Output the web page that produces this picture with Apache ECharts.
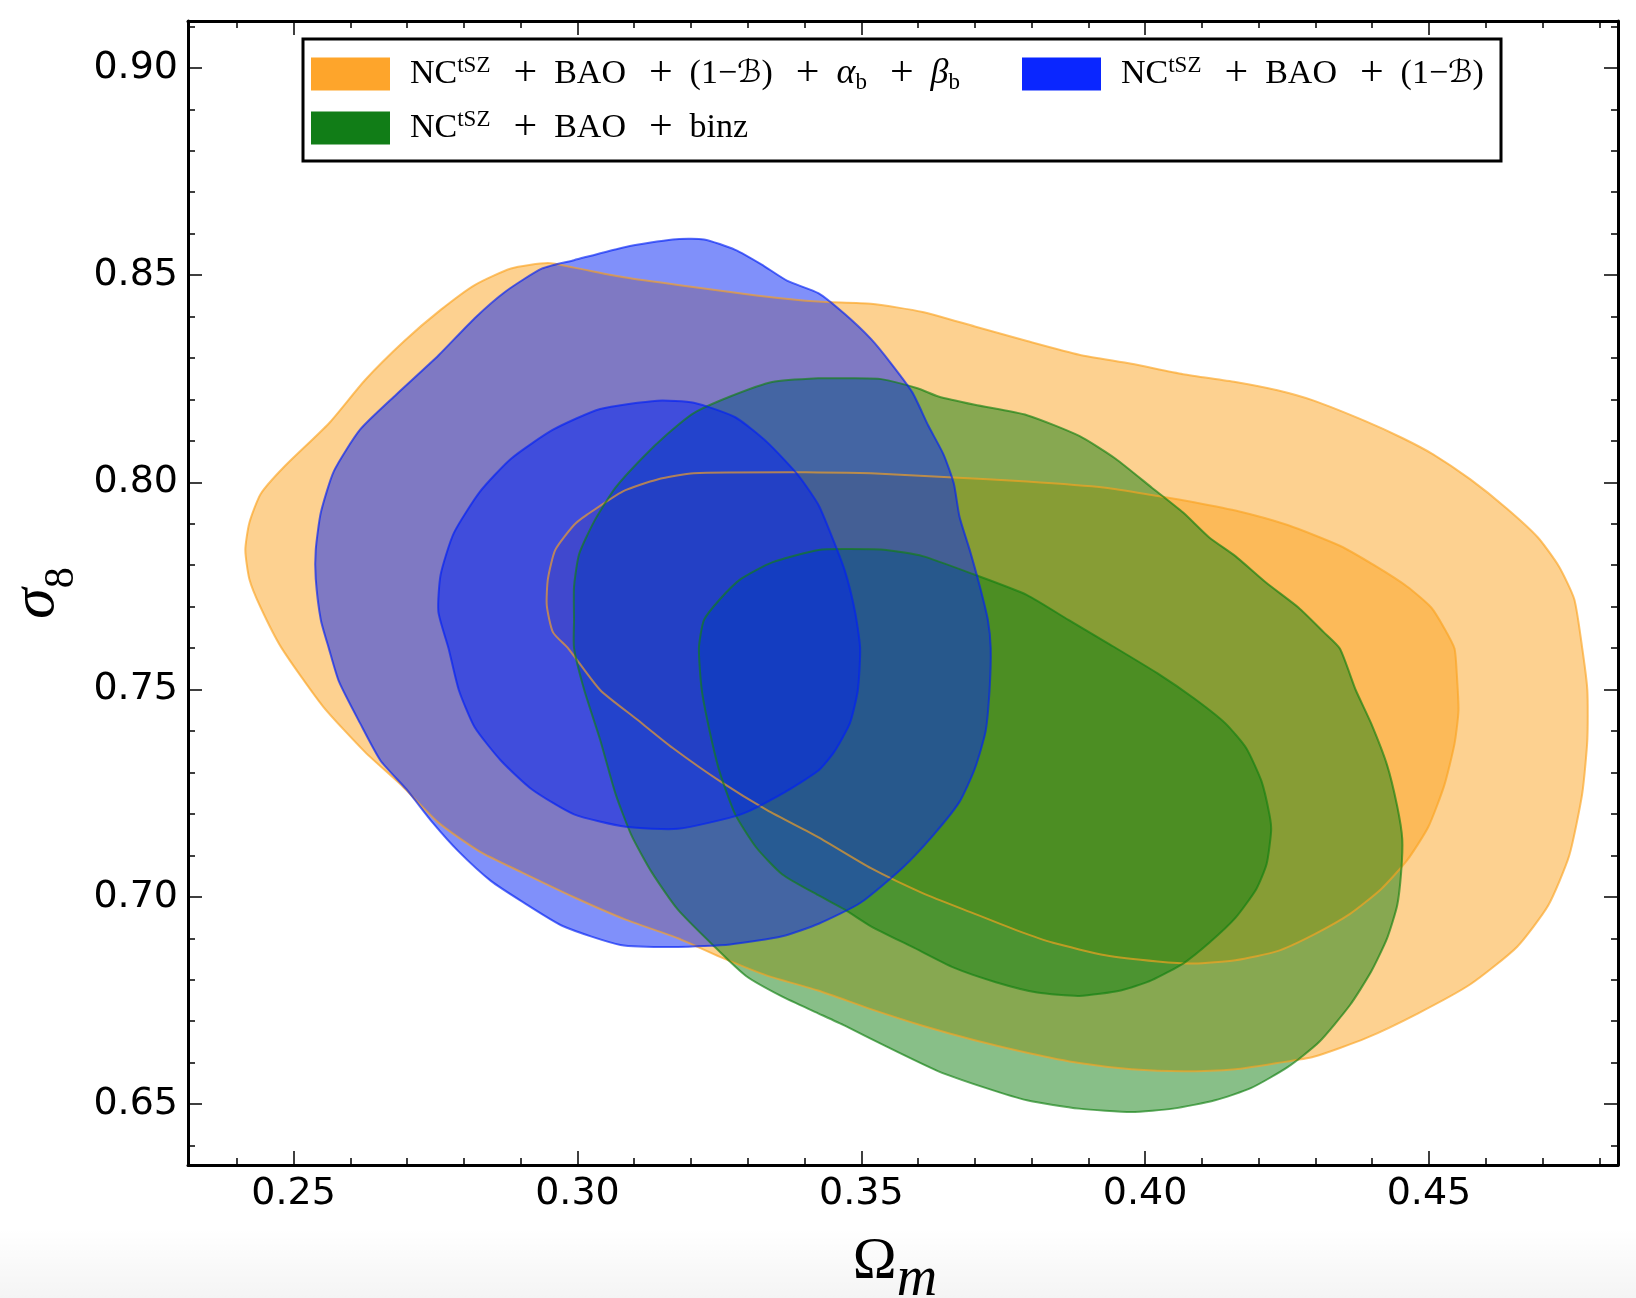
<!DOCTYPE html>
<html>
<head>
<meta charset="utf-8">
<title>Omega_m - sigma_8</title>
<script src="https://cdn.jsdelivr.net/npm/echarts@6/dist/echarts.min.js"></script>
<style>
	html, body { margin: 0; padding: 0; background: #fff; }
	#chart { width: 1636px; height: 1298px; }
</style>
</head>
<body>
<div id="chart"></div>
<script>
// contour vertices [Omega_m, sigma_8]
var orangeOuter = [
	[0.2948, 0.8529], [0.2994, 0.8518], [0.3085, 0.8494], [0.3177, 0.8476], [0.3315, 0.8451], [0.3424, 0.8436],
	[0.3517, 0.8431], [0.3608, 0.8411], [0.3700, 0.8376], [0.3792, 0.8341], [0.3884, 0.8308], [0.3976, 0.8286],
	[0.4067, 0.8261], [0.4159, 0.8242], [0.4233, 0.8222], [0.4297, 0.8197], [0.4389, 0.8147], [0.4453, 0.8107],
	[0.4508, 0.8067], [0.4573, 0.8007], [0.4637, 0.7937], [0.4692, 0.7867], [0.4729, 0.7797], [0.4756, 0.7718],
	[0.4770, 0.7600], [0.4779, 0.7499], [0.4779, 0.7379], [0.4770, 0.7249], [0.4747, 0.7099], [0.4710, 0.6979],
	[0.4655, 0.6879], [0.4573, 0.6789], [0.4481, 0.6719], [0.4389, 0.6659], [0.4297, 0.6614], [0.4233, 0.6599],
	[0.4159, 0.6584], [0.4067, 0.6579], [0.3976, 0.6584], [0.3884, 0.6599], [0.3792, 0.6624], [0.3700, 0.6654],
	[0.3608, 0.6689], [0.3517, 0.6729], [0.3424, 0.6774], [0.3334, 0.6810], [0.3251, 0.6855], [0.3177, 0.6900],
	[0.3085, 0.6945], [0.2994, 0.6999], [0.2902, 0.7059], [0.2828, 0.7109], [0.2755, 0.7179], [0.2690, 0.7269],
	[0.2626, 0.7349], [0.2552, 0.7459], [0.2479, 0.7600], [0.2442, 0.7698], [0.2422, 0.7767], [0.2415, 0.7837],
	[0.2422, 0.7902], [0.2442, 0.7972], [0.2483, 0.8037], [0.2562, 0.8142], [0.2626, 0.8247], [0.2695, 0.8341],
	[0.2759, 0.8416], [0.2819, 0.8476], [0.2883, 0.8516]
];
var orangeInner = [
	[0.3205, 0.8022], [0.3424, 0.8024], [0.3517, 0.8022], [0.3654, 0.8012], [0.3792, 0.8002], [0.3930, 0.7987],
	[0.4022, 0.7967], [0.4067, 0.7957], [0.4159, 0.7932], [0.4251, 0.7897], [0.4343, 0.7847], [0.4407, 0.7797],
	[0.4462, 0.7748], [0.4504, 0.7698], [0.4527, 0.7648], [0.4545, 0.7599], [0.4549, 0.7539], [0.4552, 0.7449],
	[0.4545, 0.7369], [0.4527, 0.7269], [0.4499, 0.7169], [0.4462, 0.7089], [0.4416, 0.7019], [0.4361, 0.6959],
	[0.4297, 0.6909], [0.4233, 0.6869], [0.4159, 0.6847], [0.4086, 0.6839], [0.4022, 0.6844], [0.3930, 0.6859],
	[0.3838, 0.6889], [0.3774, 0.6919], [0.3700, 0.6959], [0.3608, 0.7009], [0.3517, 0.7069], [0.3424, 0.7144],
	[0.3334, 0.7209], [0.3251, 0.7279], [0.3168, 0.7359], [0.3104, 0.7429], [0.3040, 0.7499], [0.2984, 0.7599],
	[0.2957, 0.7638], [0.2946, 0.7703], [0.2948, 0.7767], [0.2961, 0.7837], [0.2994, 0.7897], [0.3017, 0.7922],
	[0.3081, 0.7979], [0.3141, 0.8007]
];
var greenOuter = [
	[0.3424, 0.8251], [0.3480, 0.8251], [0.3535, 0.8249], [0.3599, 0.8227], [0.3636, 0.8207], [0.3700, 0.8187],
	[0.3792, 0.8162], [0.3884, 0.8112], [0.3948, 0.8057], [0.4012, 0.7987], [0.4067, 0.7927], [0.4113, 0.7867],
	[0.4159, 0.7822], [0.4214, 0.7757], [0.4270, 0.7698], [0.4315, 0.7638], [0.4343, 0.7599], [0.4371, 0.7499],
	[0.4398, 0.7419], [0.4426, 0.7319], [0.4444, 0.7219], [0.4453, 0.7139], [0.4451, 0.7059], [0.4444, 0.6979],
	[0.4426, 0.6899], [0.4398, 0.6819], [0.4361, 0.6739], [0.4306, 0.6649], [0.4251, 0.6589], [0.4187, 0.6539],
	[0.4123, 0.6509], [0.4049, 0.6489], [0.3976, 0.6481], [0.3884, 0.6489], [0.3792, 0.6509], [0.3719, 0.6539],
	[0.3636, 0.6579], [0.3544, 0.6639], [0.3471, 0.6689], [0.3424, 0.6719], [0.3361, 0.6759], [0.3297, 0.6809],
	[0.3242, 0.6879], [0.3177, 0.6969], [0.3131, 0.7059], [0.3095, 0.7149], [0.3067, 0.7249], [0.3040, 0.7379],
	[0.3012, 0.7499], [0.2994, 0.7600], [0.2994, 0.7668], [0.2994, 0.7748], [0.3003, 0.7827], [0.3030, 0.7907],
	[0.3067, 0.7987], [0.3113, 0.8057], [0.3159, 0.8117], [0.3205, 0.8167], [0.3269, 0.8207], [0.3343, 0.8242]
];
var greenInner = [
	[0.3425, 0.7837], [0.3480, 0.7839], [0.3544, 0.7837], [0.3608, 0.7822], [0.3700, 0.7777], [0.3792, 0.7728],
	[0.3865, 0.7668], [0.3939, 0.7608], [0.4022, 0.7539], [0.4086, 0.7479], [0.4141, 0.7419], [0.4178, 0.7359],
	[0.4205, 0.7279], [0.4219, 0.7199], [0.4222, 0.7159], [0.4214, 0.7079], [0.4196, 0.7019], [0.4159, 0.6949],
	[0.4113, 0.6889], [0.4067, 0.6839], [0.4012, 0.6799], [0.3957, 0.6774], [0.3884, 0.6761], [0.3810, 0.6769],
	[0.3737, 0.6794], [0.3663, 0.6829], [0.3590, 0.6879], [0.3517, 0.6929], [0.3471, 0.6969], [0.3424, 0.7004],
	[0.3361, 0.7054], [0.3315, 0.7119], [0.3278, 0.7199], [0.3251, 0.7299], [0.3233, 0.7399], [0.3219, 0.7499],
	[0.3214, 0.7600], [0.3223, 0.7668], [0.3251, 0.7718], [0.3288, 0.7767], [0.3343, 0.7807]
];
var blueOuter = [
	[0.3168, 0.8586], [0.3223, 0.8586], [0.3278, 0.8561], [0.3324, 0.8526], [0.3370, 0.8486], [0.3425, 0.8456],
	[0.3471, 0.8406], [0.3517, 0.8346], [0.3553, 0.8286], [0.3590, 0.8217], [0.3618, 0.8137], [0.3645, 0.8067],
	[0.3663, 0.7997], [0.3673, 0.7917], [0.3691, 0.7837], [0.3709, 0.7748], [0.3723, 0.7668], [0.3728, 0.7600],
	[0.3726, 0.7499], [0.3719, 0.7399], [0.3700, 0.7309], [0.3673, 0.7229], [0.3627, 0.7149], [0.3572, 0.7069],
	[0.3498, 0.6985], [0.3425, 0.6935], [0.3361, 0.6905], [0.3269, 0.6885], [0.3177, 0.6879], [0.3076, 0.6884],
	[0.2975, 0.6929], [0.2902, 0.6989], [0.2847, 0.7039], [0.2791, 0.7109], [0.2745, 0.7179], [0.2699, 0.7259],
	[0.2653, 0.7329], [0.2617, 0.7419], [0.2580, 0.7519], [0.2562, 0.7600], [0.2548, 0.7668], [0.2539, 0.7767],
	[0.2539, 0.7837], [0.2548, 0.7927], [0.2571, 0.8027], [0.2617, 0.8127], [0.2681, 0.8212], [0.2755, 0.8306],
	[0.2819, 0.8396], [0.2874, 0.8461], [0.2938, 0.8516], [0.2994, 0.8536], [0.3085, 0.8568]
];
var blueInner = [
	[0.3141, 0.8197], [0.3205, 0.8192], [0.3278, 0.8157], [0.3334, 0.8097], [0.3389, 0.8017], [0.3424, 0.7947],
	[0.3443, 0.7887], [0.3471, 0.7787], [0.3489, 0.7688], [0.3498, 0.7600], [0.3494, 0.7499], [0.3480, 0.7419],
	[0.3452, 0.7349], [0.3424, 0.7304], [0.3361, 0.7249], [0.3288, 0.7199], [0.3177, 0.7164], [0.3085, 0.7169],
	[0.2994, 0.7199], [0.2920, 0.7259], [0.2865, 0.7329], [0.2819, 0.7409], [0.2791, 0.7499], [0.2773, 0.7599],
	[0.2755, 0.7688], [0.2759, 0.7777], [0.2782, 0.7877], [0.2828, 0.7977], [0.2883, 0.8057], [0.2957, 0.8127],
	[0.3040, 0.8177]
];

var xRange = [0.2314, 0.4833];
var yRange = [0.6353, 0.9113];
var xMajor = [0.25, 0.30, 0.35, 0.40, 0.45];
var xMinor = [0.24, 0.26, 0.27, 0.28, 0.29, 0.31, 0.32, 0.33, 0.34, 0.36, 0.37, 0.38, 0.39, 0.41, 0.42, 0.43, 0.44, 0.46, 0.47, 0.48];
var yMajor = [0.65, 0.70, 0.75, 0.80, 0.85, 0.90];
var yMinor = [0.64, 0.66, 0.67, 0.68, 0.69, 0.71, 0.72, 0.73, 0.74, 0.76, 0.77, 0.78, 0.79, 0.81, 0.82, 0.83, 0.84, 0.86, 0.87, 0.88, 0.89, 0.91];

var nameOrange = 'NCtSZ + BAO + (1-B) + alpha_b + beta_b';
var nameGreen = 'NCtSZ + BAO + binz';
var nameBlue = 'NCtSZ + BAO + (1-B)';

var legendText = {};
legendText[nameOrange] = '{m0|NC}{sup|tSZ}{p|+}{m|BAO}{p|+}{m|(1\u2212}{cal|\u212C}{m|)}{p|+}{it|\u03B1}{sub|b}{p|+}{it|\u03B2}{sub|b}';
legendText[nameGreen] = '{m0|NC}{sup|tSZ}{p|+}{m|BAO}{p|+}{m|binz}';
legendText[nameBlue] = '{m0|NC}{sup|tSZ}{p|+}{m|BAO}{p|+}{m|(1\u2212}{cal|\u212C}{m|)}';

var serif = "'Liberation Serif', 'DejaVu Serif', serif";
var sans = "'DejaVu Sans', sans-serif";

var chart = echarts.init(document.getElementById('chart'));

function fillSeries(name, pts, fill, iconColor) {
	return {
		type: 'custom',
		name: name,
		coordinateSystem: 'cartesian2d',
		xAxisIndex: 0,
		yAxisIndex: 0,
		silent: true,
		itemStyle: { color: iconColor },
		data: pts,
		renderItem: function(params, api) {
			if(params.dataIndex !== 0) {
				return null;
			}
			var points = [];
			for(var i = 0; i < pts.length; i++) {
				points.push(api.coord(pts[i]));
			}
			return {
				type: 'polygon',
				shape: { points: points, smooth: 0.2 },
				style: { fill: fill, stroke: null }
			};
		}
	};
}

function lineSeries(pts, stroke) {
	return {
		type: 'custom',
		coordinateSystem: 'cartesian2d',
		xAxisIndex: 0,
		yAxisIndex: 0,
		silent: true,
		data: pts,
		renderItem: function(params, api) {
			if(params.dataIndex !== 0) {
				return null;
			}
			var points = [];
			for(var i = 0; i < pts.length; i++) {
				points.push(api.coord(pts[i]));
			}
			return {
				type: 'polygon',
				shape: { points: points, smooth: 0.2 },
				style: { fill: null, stroke: stroke, lineWidth: 2 }
			};
		}
	};
}

var orangeFill = 'rgba(251,163,33,0.5)';
var greenFill = 'rgba(17,127,17,0.5)';
var blueFill = 'rgba(1,33,245,0.5)';
var orangeLine = 'rgba(251,163,33,0.65)';
var greenLine = 'rgba(17,127,17,0.65)';
var blueLine = 'rgba(1,33,245,0.65)';

var series = [
	fillSeries(nameOrange, orangeOuter, orangeFill, '#FEA52B'),
	fillSeries(nameOrange, orangeInner, orangeFill, '#FEA52B'),
	fillSeries(nameGreen, greenOuter, greenFill, '#117D17'),
	fillSeries(nameGreen, greenInner, greenFill, '#117D17'),
	fillSeries(nameBlue, blueOuter, blueFill, '#0A26FF'),
	fillSeries(nameBlue, blueInner, blueFill, '#0A26FF'),
	lineSeries(orangeOuter, orangeLine),
	lineSeries(orangeInner, orangeLine),
	lineSeries(greenOuter, greenLine),
	lineSeries(greenInner, greenLine),
	lineSeries(blueOuter, blueLine),
	lineSeries(blueInner, blueLine)
];

var richLegend = {
	m0: { fontFamily: serif, fontSize: 34, lineHeight: 40, color: '#000', padding: [0, 0, 0, 15] },
	m: { fontFamily: serif, fontSize: 34, lineHeight: 40, color: '#000' },
	p: { fontFamily: serif, fontSize: 42, lineHeight: 40, color: '#000', padding: [0, 17, 0, 23] },
	it: { fontFamily: serif, fontSize: 36, lineHeight: 40, fontStyle: 'italic', color: '#000' },
	cal: { fontFamily: "'DejaVu Serif', 'DejaVu Sans', serif", fontSize: 31, lineHeight: 40, color: '#000' },
	sup: { fontFamily: serif, fontSize: 23, lineHeight: 22, verticalAlign: 'top', color: '#000' },
	sub: { fontFamily: serif, fontSize: 23, lineHeight: 22, verticalAlign: 'bottom', color: '#000' }
};

function legendBlock(data, left) {
	return {
		data: data,
		orient: 'vertical',
		left: left,
		top: 53,
		padding: 0,
		itemWidth: 79,
		itemHeight: 33,
		itemGap: 12,
		icon: 'rect',
		selectedMode: false,
		formatter: function(name) {
			return legendText[name];
		},
		textStyle: { rich: richLegend }
	};
}

function tickAxis(dim, position, values, len, withLine, withLabel) {
	var isX = dim === 'x';
	var ax = {
		type: 'value',
		position: position,
		min: isX ? xRange[0] : yRange[0],
		max: isX ? xRange[1] : yRange[1],
		splitLine: { show: false },
		axisLine: { show: withLine, lineStyle: { color: '#000', width: 3 } },
		axisTick: {
			show: true,
			inside: true,
			length: len,
			lineStyle: { color: '#000', width: 1.5 },
			customValues: values
		},
		axisLabel: { show: false }
	};
	if(withLabel) {
		ax.axisLabel = {
			show: true,
			customValues: values,
			margin: 10,
			fontFamily: sans,
			fontSize: 38,
			color: '#000',
			formatter: function(v) {
				return v.toFixed(2);
			}
		};
	}
	return ax;
}

var xAxes = [
	tickAxis('x', 'bottom', xMajor, 14, true, true),
	tickAxis('x', 'bottom', xMinor, 7, false, false),
	tickAxis('x', 'top', xMajor, 14, true, false),
	tickAxis('x', 'top', xMinor, 7, false, false)
];
xAxes[0].name = '{o|\u03A9}{s|m}';
xAxes[0].nameLocation = 'middle';
xAxes[0].nameGap = 60;
xAxes[0].nameTextStyle = {
	rich: {
		o: { fontFamily: serif, fontSize: 59, lineHeight: 58, color: '#000' },
		s: { fontFamily: serif, fontSize: 56, lineHeight: 56, fontStyle: 'italic', padding: [34, 16, 0, 0], color: '#000' }
	}
};

var yAxes = [
	tickAxis('y', 'left', yMajor, 14, true, true),
	tickAxis('y', 'left', yMinor, 7, false, false),
	tickAxis('y', 'right', yMajor, 14, true, false),
	tickAxis('y', 'right', yMinor, 7, false, false)
];
yAxes[0].name = '{s|\u03C3}{d|8}';
yAxes[0].nameLocation = 'middle';
yAxes[0].nameGap = 112;
yAxes[0].nameRotate = 90;
yAxes[0].nameTextStyle = {
	rich: {
		s: { fontFamily: serif, fontSize: 62, lineHeight: 60, fontStyle: 'italic', color: '#000' },
		d: { fontFamily: serif, fontSize: 42, lineHeight: 42, padding: [50, 0, 0, 0], color: '#000' }
	}
};

var option = {
	backgroundColor: '#fff',
	animation: false,
	grid: { left: 188, right: 18, top: 21, bottom: 133, containLabel: false, outerBoundsMode: 'none' },
	xAxis: xAxes,
	yAxis: yAxes,
	legend: [legendBlock([nameOrange, nameGreen], 311), legendBlock([nameBlue], 1022)],
	graphic: [{
		type: 'rect',
		z: -1,
		silent: true,
		shape: { x: 0, y: 1228, width: 1636, height: 70 },
		style: {
			fill: new echarts.graphic.LinearGradient(0, 0, 0, 1, [
				{ offset: 0, color: 'rgba(0,0,0,0)' },
				{ offset: 1, color: 'rgba(0,0,0,0.045)' }
			])
		}
	}, {
		type: 'rect',
		z: 3,
		silent: true,
		shape: { x: 303, y: 39, width: 1198, height: 122 },
		style: { fill: '#fff', stroke: '#000', lineWidth: 3 }
	}],
	series: series
};

chart.setOption(option);
</script>
</body>
</html>
